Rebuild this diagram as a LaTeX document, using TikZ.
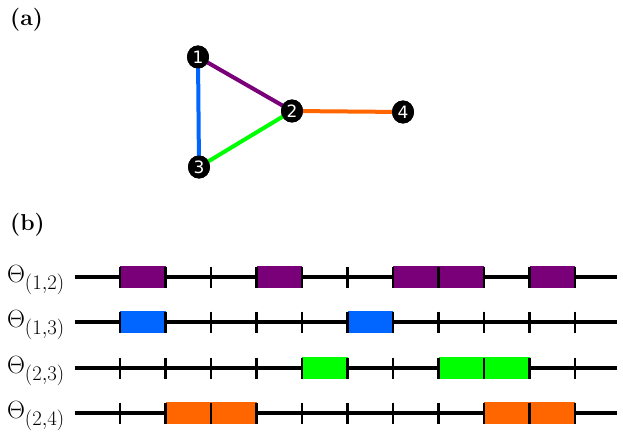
\documentclass[tikz,border=0pt]{standalone}
\usepackage{fontspec}
\newfontfamily\nodefont{DejaVu Sans}
\usetikzlibrary{shapes.geometric}
\definecolor{cpurple}{RGB}{122,0,122}
\definecolor{cblue}{RGB}{0,102,255}
\definecolor{cgreen}{RGB}{0,255,0}
\definecolor{corange}{RGB}{255,102,0}
\tikzset{
  vert/.style={ellipse,fill=black,inner sep=0pt,minimum width=22pt,minimum height=23pt,text=white,font=\nodefont\fontsize{17}{17}\selectfont},
  edgeline/.style={line width=4pt},
  panel/.style={font=\fontsize{23}{23}\selectfont\bfseries,anchor=north west,inner sep=0pt},
  rowlabel/.style={font=\Huge,anchor=east,inner sep=0pt},
  axisline/.style={line width=3.6pt},
  tickmark/.style={line width=2.6pt},
}
\begin{document}
\begin{tikzpicture}[x=1pt,y=-1pt]
\useasboundingbox (0,0) rectangle (623,433);
% panel labels
\node[panel] (pa) at (10,8) {(a)};
\node[panel] (pb) at (10,213) {(b)};
% graph
\node[vert] (v1) at (198,57) {1};
\node[vert] (v2) at (292,111) {2};
\node[vert] (v3) at (199,167) {3};
\node[vert] (v4) at (403,112) {4};
\draw[edgeline,cpurple] (v1.center) -- (v2.center);
\draw[edgeline,cblue] (v1.center) -- (v3.center);
\draw[edgeline,cgreen] (v3.center) -- (v2.center);
\draw[edgeline,corange] (v2.center) -- (v4.center);
\node[vert] at (v1) {1};
\node[vert] at (v2) {2};
\node[vert] at (v3) {3};
\node[vert] at (v4) {4};
% timelines
\foreach \r/\y/\lab in {1/277/{(1,2)},2/322/{(1,3)},3/368/{(2,3)},4/413/{(2,4)}}{
  \node[rowlabel] (lab\r) at (65,\y+3) {$\Theta_{\lab}$};
  \coordinate (s\r) at (75,\y);
  \coordinate (e\r) at (617,\y);
}
\draw[axisline] (s1) -- (e1);
\draw[axisline] (s2) -- (e2);
\draw[axisline] (s3) -- (e3);
\draw[axisline] (s4) -- (e4);
% boxes
\foreach \y/\a/\b/\c in {277/0/1/cpurple,277/3/4/cpurple,277/6/8/cpurple,277/9/10/cpurple,
  322/0/1/cblue,322/5/6/cblue,
  368/4/5/cgreen,368/7/9/cgreen,
  413/1/3/corange,413/8/10/corange}{
  \fill[\c] ({120+45.5*\a},\y-11) rectangle ({120+45.5*\b},\y+11);
}
% ticks
\foreach \y in {277,322,368,413}{
  \foreach \k in {0,...,10}{
    \draw[tickmark] ({120+45.5*\k},\y-10.5) -- ({120+45.5*\k},\y+10.5);
  }
}
\end{tikzpicture}
\end{document}
